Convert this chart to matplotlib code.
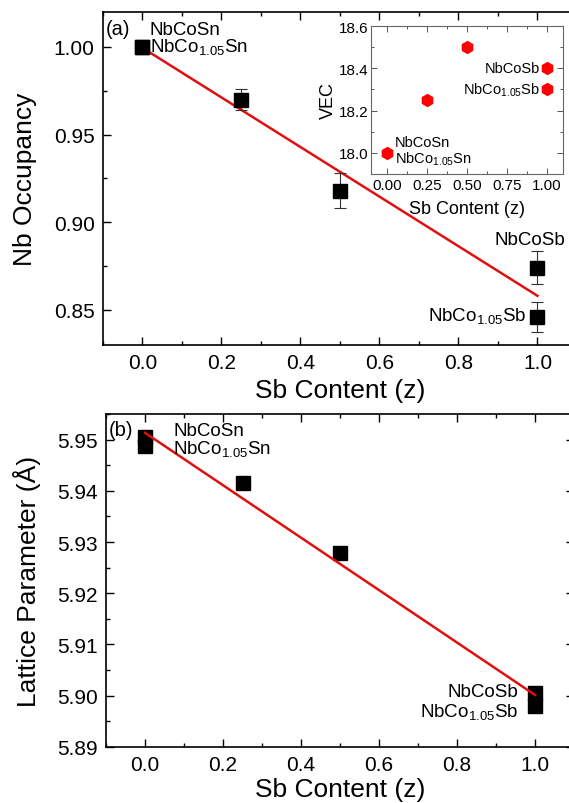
import numpy as np
import matplotlib
matplotlib.use('Agg')
import matplotlib.pyplot as plt
from matplotlib.ticker import MultipleLocator, FixedLocator, FormatStrFormatter

plt.rcParams['font.family'] = ['Liberation Sans', 'DejaVu Sans']
plt.rcParams['mathtext.default'] = 'regular'

# (a) Nb occupancy from refinement
z_occ = [0.0, 0.0, 0.25, 0.5, 1.0, 1.0]
occ = [1.000, 1.000, 0.970, 0.918, 0.874, 0.846]
occ_err = [0.0, 0.0, 0.006, 0.010, 0.0095, 0.0085]

# inset: valence electron count
z_vec = [0.0, 0.25, 0.5, 1.0, 1.0]
vec = [18.0, 18.25, 18.5, 18.4, 18.3]

# (b) lattice parameter
z_lat = [0.0, 0.0, 0.25, 0.5, 1.0, 1.0]
lat = [5.9505, 5.9488, 5.9416, 5.9278, 5.9005, 5.8980]

sn_names = ['NbCoSn', 'NbCo$_{1.05}$Sn']
sb_names = ['NbCoSb', 'NbCo$_{1.05}$Sb']


def style_axis(ax, size, major_len, minor_len):
    ax.tick_params(which='both', direction='in', top=True, right=True,
                   labelsize=size, width=1.0, pad=6)
    ax.tick_params(which='major', length=major_len)
    ax.tick_params(which='minor', length=minor_len)
    for s in ax.spines.values():
        s.set_linewidth(1.2)


fig = plt.figure(figsize=(5.69, 8.04), dpi=100)

# ---- panel (a)
ax1 = fig.add_axes([0.181, 0.5697, 0.833, 0.4142])
ax1.errorbar(z_occ, occ, yerr=occ_err, fmt='s', color='black', ms=10,
             ecolor='#333333', elinewidth=0.8, capsize=4, capthick=0.8)
k, b = np.polyfit(z_occ, occ, 1)
xx = np.array([0.0, 1.0])
ax1.plot(xx, k * xx + b, color='#e01010', lw=1.8, zorder=1)
ax1.set_xlim(-0.1, 1.1)
ax1.set_ylim(0.83, 1.02)
ax1.xaxis.set_major_locator(MultipleLocator(0.2))
ax1.xaxis.set_minor_locator(MultipleLocator(0.1))
ax1.yaxis.set_major_locator(MultipleLocator(0.05))
ax1.yaxis.set_minor_locator(MultipleLocator(0.025))
ax1.yaxis.set_major_formatter(FormatStrFormatter('%.2f'))
style_axis(ax1, 15, 6, 3)
ax1.set_xlabel('Sb Content (z)', fontsize=19, va='center')
ax1.set_ylabel('Nb Occupancy', fontsize=19, va='center')
ax1.xaxis.set_label_coords(0.5, -0.135)
ax1.yaxis.set_label_coords(-0.165, 0.5)
ax1.text(-0.092, 1.0105, '(a)', fontsize=14.5, va='center')
ax1.text(0.018, 1.0100, sn_names[0], fontsize=13.5, va='center')
ax1.text(0.018, 1.0003, sn_names[1], fontsize=13.5, va='center')
ax1.text(1.07, 0.890, sb_names[0], fontsize=13.5, va='center', ha='right')
ax1.text(0.972, 0.847, sb_names[1], fontsize=13.5, va='center', ha='right')

# ---- inset
ins = fig.add_axes([0.652, 0.7823, 0.3374, 0.1841])
ins.plot(z_vec, vec, 'h', color='#ff0000', ms=8.5, mec='#ff0000')
ins.set_xlim(-0.1, 1.1)
ins.set_ylim(17.9, 18.6)
ins.xaxis.set_major_locator(FixedLocator([0.0, 0.25, 0.5, 0.75, 1.0]))
ins.xaxis.set_minor_locator(MultipleLocator(0.125))
ins.yaxis.set_major_locator(MultipleLocator(0.2))
ins.yaxis.set_minor_locator(MultipleLocator(0.1))
ins.xaxis.set_major_formatter(FormatStrFormatter('%.2f'))
ins.yaxis.set_major_formatter(FormatStrFormatter('%.1f'))
ins.tick_params(which='both', direction='in', top=True, right=True,
                labelsize=11, width=0.7, pad=3, colors='#555555',
                labelcolor='black')
ins.tick_params(axis='y', pad=2)
ins.tick_params(which='major', length=4)
ins.tick_params(which='minor', length=2)
for s in ins.spines.values():
    s.set_linewidth(0.8)
    s.set_color('#666666')
ins.set_xlabel('Sb Content (z)', fontsize=13, va='center')
ins.set_ylabel('VEC', fontsize=13, va='center')
ins.xaxis.set_label_coords(0.5, -0.23)
ins.yaxis.set_label_coords(-0.222, 0.5)
ins.text(0.956, 18.4, sb_names[0], fontsize=10.5, va='center', ha='right')
ins.text(0.956, 18.3, sb_names[1], fontsize=10.5, va='center', ha='right')
ins.text(0.05, 18.052, sn_names[0], fontsize=10.5, va='center')
ins.text(0.05, 17.975, sn_names[1], fontsize=10.5, va='center')

# ---- panel (b)
ax2 = fig.add_axes([0.1863, 0.0697, 0.8225, 0.4142])
ax2.plot(z_lat, lat, 's', color='black', ms=10)
k, b = np.polyfit(z_lat, lat, 1)
ax2.plot(xx, k * xx + b, color='#e01010', lw=1.8, zorder=3)
ax2.set_xlim(-0.1, 1.1)
ax2.set_ylim(5.89, 5.955)
ax2.xaxis.set_major_locator(MultipleLocator(0.2))
ax2.xaxis.set_minor_locator(MultipleLocator(0.1))
ax2.yaxis.set_major_locator(MultipleLocator(0.01))
ax2.yaxis.set_minor_locator(MultipleLocator(0.005))
ax2.yaxis.set_major_formatter(FormatStrFormatter('%.2f'))
style_axis(ax2, 15, 6, 3)
ax2.set_xlabel('Sb Content (z)', fontsize=19, va='center')
ax2.set_ylabel('Lattice Parameter (Å)', fontsize=19, va='center')
ax2.xaxis.set_label_coords(0.5, -0.126)
ax2.yaxis.set_label_coords(-0.169, 0.5)
ax2.text(-0.092, 5.952, '(b)', fontsize=14.5, va='center')
ax2.text(0.072, 5.9518, sn_names[0], fontsize=13.5, va='center')
ax2.text(0.072, 5.9484, sn_names[1], fontsize=13.5, va='center')
ax2.text(0.956, 5.9008, sb_names[0], fontsize=13.5, va='center', ha='right')
ax2.text(0.956, 5.8970, sb_names[1], fontsize=13.5, va='center', ha='right')

fig.savefig('out.png', dpi=100)
